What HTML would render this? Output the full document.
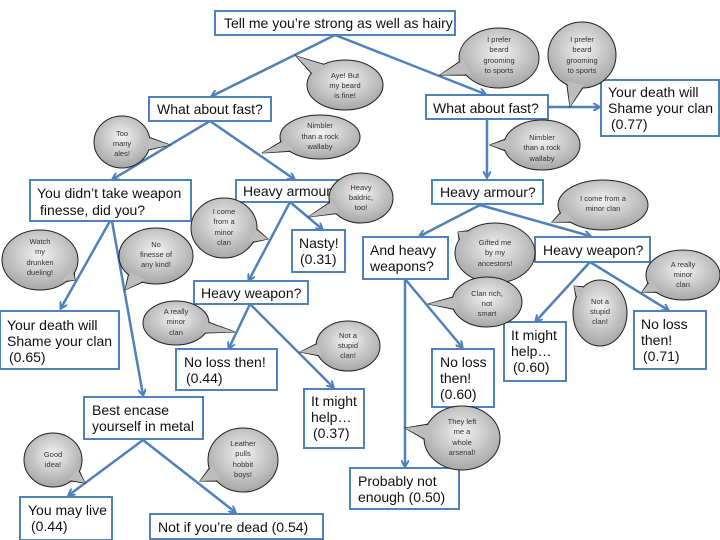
<!DOCTYPE html>
<html><head><meta charset="utf-8"><style>
html,body{margin:0;padding:0;background:#fff}
svg{display:block}
.b{fill:#fff;stroke:#4f81bd;stroke-width:2}
.t{font-family:"Liberation Sans",sans-serif;font-size:14px;fill:#111}
.s{font-family:"Liberation Sans",sans-serif;font-size:7.5px;fill:#333;text-anchor:middle}
.l{stroke:#4f81bd;stroke-width:2.5;fill:none;marker-end:url(#a)}
</style></head><body>
<svg id="sv" width="720" height="540" viewBox="0 0 720 540" xmlns="http://www.w3.org/2000/svg">
<defs>
<marker id="a" markerWidth="8" markerHeight="8" refX="6" refY="4" orient="auto" markerUnits="userSpaceOnUse"><path d="M0,0 L7,4 L0,8" fill="none" stroke="#4f81bd" stroke-width="2"/></marker>
<radialGradient id="g" cx="50%" cy="40%" r="60%"><stop offset="0" stop-color="#f2f2f2"/><stop offset="1" stop-color="#a6a6a6"/></radialGradient>
</defs>
<line class="l" x1="335" y1="35" x2="212" y2="96"/>
<line class="l" x1="335" y1="35" x2="485" y2="94"/>
<line class="l" x1="210" y1="121" x2="113" y2="179"/>
<line class="l" x1="210" y1="121" x2="294" y2="179"/>
<line class="l" x1="487" y1="119" x2="487" y2="177"/>
<line class="l" x1="548" y1="107" x2="599" y2="107"/>
<line class="l" x1="110" y1="221" x2="61" y2="308"/>
<line class="l" x1="112" y1="221" x2="143" y2="395"/>
<line class="l" x1="290" y1="202" x2="322" y2="229"/>
<line class="l" x1="290" y1="202" x2="249" y2="280"/>
<line class="l" x1="250" y1="304" x2="229" y2="348"/>
<line class="l" x1="250" y1="304" x2="333" y2="387"/>
<line class="l" x1="480" y1="205" x2="420" y2="236"/>
<line class="l" x1="480" y1="205" x2="590" y2="236"/>
<line class="l" x1="590" y1="262" x2="536" y2="321"/>
<line class="l" x1="590" y1="262" x2="668" y2="310"/>
<line class="l" x1="405" y1="279" x2="462" y2="347"/>
<line class="l" x1="405" y1="279" x2="405" y2="466"/>
<line class="l" x1="143" y1="440" x2="69" y2="495"/>
<line class="l" x1="143" y1="440" x2="235" y2="512"/>
<rect class="b" x="215" y="11" width="240" height="24"/><text class="t" x="224" y="28">Tell me you’re strong as well as hairy</text>
<rect class="b" x="149" y="97" width="122" height="24"/><text class="t" x="157" y="114">What about fast?</text>
<rect class="b" x="426" y="95" width="122" height="24"/><text class="t" x="433" y="113">What about fast?</text>
<rect class="b" x="601" y="80" width="118" height="56"/><text class="t" x="608" y="97">Your death will</text><text class="t" x="608" y="113">Shame your clan</text><text class="t" x="611" y="129">(0.77)</text>
<rect class="b" x="30" y="180" width="161" height="41"/><text class="t" x="37" y="198">You didn’t take weapon</text><text class="t" x="40" y="215">finesse, did you?</text>
<rect class="b" x="236" y="180" width="109" height="22"/><text class="t" x="243" y="196">Heavy armour?</text>
<rect class="b" x="432" y="180" width="111" height="24"/><text class="t" x="440" y="197">Heavy armour?</text>
<rect class="b" x="292" y="230" width="53" height="42"/><text class="t" x="299" y="248">Nasty!</text><text class="t" x="300" y="264">(0.31)</text>
<rect class="b" x="194" y="281" width="114" height="23"/><text class="t" x="201" y="298">Heavy weapon?</text>
<rect class="b" x="535" y="237" width="115" height="25"/><text class="t" x="543" y="255">Heavy weapon?</text>
<rect class="b" x="363" y="237" width="85" height="42"/><text class="t" x="370" y="255">And heavy</text><text class="t" x="370" y="271">weapons?</text>
<rect class="b" x="0" y="311" width="119" height="58"/><text class="t" x="7" y="330">Your death will</text><text class="t" x="7" y="346">Shame your clan</text><text class="t" x="9" y="362">(0.65)</text>
<rect class="b" x="176" y="349" width="101" height="41"/><text class="t" x="184" y="367">No loss then!</text><text class="t" x="186" y="383">(0.44)</text>
<rect class="b" x="304" y="389" width="60" height="59"/><text class="t" x="311" y="406">It might</text><text class="t" x="311" y="422">help…</text><text class="t" x="313" y="438">(0.37)</text>
<rect class="b" x="84" y="397" width="119" height="42"/><text class="t" x="92" y="415">Best encase</text><text class="t" x="92" y="431">yourself in metal</text>
<rect class="b" x="20" y="497" width="92" height="43"/><text class="t" x="28" y="515">You may live</text><text class="t" x="31" y="531">(0.44)</text>
<rect class="b" x="150" y="514" width="173" height="25"/><text class="t" x="158" y="532">Not if you’re dead (0.54)</text>
<rect class="b" x="432" y="349" width="62" height="58"/><text class="t" x="440" y="367">No loss</text><text class="t" x="440" y="383">then!</text><text class="t" x="440" y="399">(0.60)</text>
<rect class="b" x="504" y="322" width="62" height="59"/><text class="t" x="511" y="340">It might</text><text class="t" x="511" y="356">help…</text><text class="t" x="513" y="372">(0.60)</text>
<rect class="b" x="634" y="311" width="72" height="58"/><text class="t" x="641" y="329">No loss</text><text class="t" x="641" y="345">then!</text><text class="t" x="643" y="361">(0.71)</text>
<rect class="b" x="350" y="468" width="109" height="41"/><text class="t" x="358" y="486">Probably not</text><text class="t" x="358" y="502">enough (0.50)</text>
<g id="bub"></g>
<g id="txt">
<text class="s" x="345" y="78">Aye! But</text><text class="s" x="345" y="88">my beard</text><text class="s" x="345" y="98">is fine!</text>
<text class="s" x="122" y="136">Too</text><text class="s" x="122" y="146">many</text><text class="s" x="122" y="156">ales!</text>
<text class="s" x="320" y="128">Nimbler</text><text class="s" x="320" y="139">than a rock</text><text class="s" x="320" y="149">wallaby</text>
<text class="s" x="499" y="42">I prefer</text><text class="s" x="499" y="52">beard</text><text class="s" x="499" y="63">grooming</text><text class="s" x="499" y="73">to sports</text>
<text class="s" x="582" y="42">I prefer</text><text class="s" x="582" y="52">beard</text><text class="s" x="582" y="63">grooming</text><text class="s" x="582" y="73">to sports</text>
<text class="s" x="542" y="140">Nimbler</text><text class="s" x="542" y="150">than a rock</text><text class="s" x="542" y="161">wallaby</text>
<text class="s" x="361" y="190">Heavy</text><text class="s" x="361" y="200">baldric,</text><text class="s" x="361" y="210">too!</text>
<text class="s" x="224" y="214">I come</text><text class="s" x="224" y="224">from a</text><text class="s" x="224" y="235">minor</text><text class="s" x="224" y="245">clan</text>
<text class="s" x="40" y="244">Watch</text><text class="s" x="40" y="254">my</text><text class="s" x="40" y="265">drunken</text><text class="s" x="40" y="275">dueling!</text>
<text class="s" x="156" y="247">No</text><text class="s" x="156" y="257">finesse of</text><text class="s" x="156" y="267">any kind!</text>
<text class="s" x="603" y="201">I come from a</text><text class="s" x="603" y="211">minor clan</text>
<text class="s" x="495" y="245">Gifted me</text><text class="s" x="495" y="255">by my</text><text class="s" x="495" y="266">ancestors!</text>
<text class="s" x="176" y="314">A really</text><text class="s" x="176" y="324">minor</text><text class="s" x="176" y="335">clan</text>
<text class="s" x="348" y="338">Not a</text><text class="s" x="348" y="348">stupid</text><text class="s" x="348" y="358">clan!</text>
<text class="s" x="487" y="296">Clan rich,</text><text class="s" x="487" y="306">not</text><text class="s" x="487" y="316">smart</text>
<text class="s" x="683" y="267">A really</text><text class="s" x="683" y="277">minor</text><text class="s" x="683" y="287">clan</text>
<text class="s" x="600" y="304">Not a</text><text class="s" x="600" y="314">stupid</text><text class="s" x="600" y="324">clan!</text>
<text class="s" x="462" y="424">They left</text><text class="s" x="462" y="434">me a</text><text class="s" x="462" y="445">whole</text><text class="s" x="462" y="455">arsenal!</text>
<text class="s" x="53" y="457">Good</text><text class="s" x="53" y="467">idea!</text>
<text class="s" x="243" y="446">Leather</text><text class="s" x="243" y="456">pulls</text><text class="s" x="243" y="467">hobbit</text><text class="s" x="243" y="477">boys!</text>
</g>
</svg>
<script>
var B=[[345,85,38,25,296,56],[122,142,28,26,170,145],[320,137,40,22,262,153],[499,58,40,30,440,75],[582,55,34,33,570,107],[542,145,38,25,490,145],[361,198,32,25,308,217],[224,228,33,30,268,239],[40,260,38,30,75,280],[156,256,37,28,125,290],[603,205,45,25,552,222],[495,253,40,30,458,232],[176,323,33,22,235,332],[348,346,32,25,300,352],[487,302,35,25,428,304],[683,275,37,25,642,292],[600,313,27,33,574,286],[462,438,38,32,405,428],[53,460,29,27,85,483],[243,460,35,32,200,481]];
var g=document.getElementById('bub'),ns='http://www.w3.org/2000/svg',h='';
B.forEach(function(b){var cx=b[0],cy=b[1],rx=b[2],ry=b[3],tx=b[4],ty=b[5];
var th=Math.atan2((ty-cy)/ry,(tx-cx)/rx),d=0.28;
function p(a,k){return (cx+rx*k*Math.cos(a)).toFixed(1)+','+(cy+ry*k*Math.sin(a)).toFixed(1);}
var tri='M'+tx+','+ty+' L'+p(th-d,0.95)+' L'+p(th+d,0.95)+' Z';
var tri2='M'+tx+','+ty+' L'+p(th-d,0.9)+' L'+p(th+d,0.9)+' Z';
h+='<path d="'+tri+'" fill="#bdbdbd" stroke="#222" stroke-width="1"/>';
h+='<ellipse cx="'+cx+'" cy="'+cy+'" rx="'+rx+'" ry="'+ry+'" fill="url(#g)" stroke="#222" stroke-width="1"/>';
h+='<path d="'+tri2+'" fill="#bdbdbd" stroke="none"/>';});
g.innerHTML=h;
</script>
</body></html>
